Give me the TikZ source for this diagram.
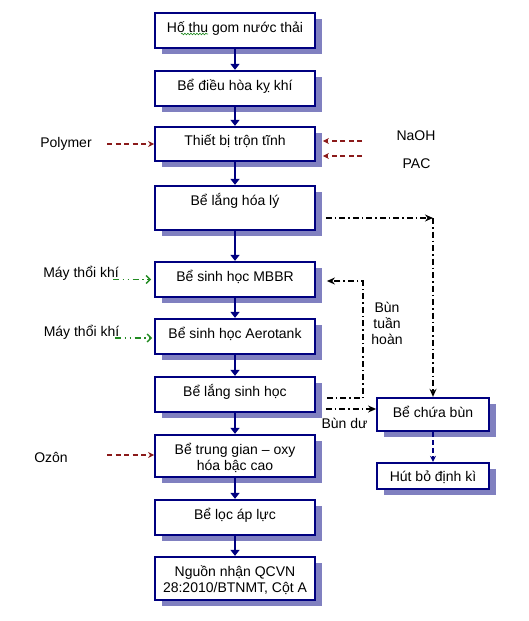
\documentclass[tikz,border=0pt]{standalone}
\usepackage{fontspec}
\setmainfont{Liberation Sans}
\usetikzlibrary{arrows.meta,shadows,calc,decorations.pathmorphing}
\definecolor{navy}{HTML}{000080}
\definecolor{shad}{HTML}{8080C0}
\definecolor{dred}{HTML}{8B1A1A}
\definecolor{dgreen}{HTML}{228B22}
\begin{document}
\begin{tikzpicture}[x=1pt,y=-1pt,font=\fontsize{14}{16}\selectfont,
  box/.style={draw=navy,line width=1.8pt,fill=white,minimum width=160pt,inner sep=0pt,
    text height=8pt,text depth=5pt,
    drop shadow={shadow xshift=7pt,shadow yshift=-6pt,fill=shad,opacity=1}},
  boxtwo/.style={box,align=center,text height=30pt,text depth=2pt},
  lbl/.style={inner sep=0pt,text height=10pt,text depth=0pt},
  flow/.style={draw=navy,line width=1.5pt,-{Triangle[length=6pt,width=9pt]}},
  chem/.style={draw=dred,line width=1.3pt,dash pattern=on 5pt off 3.5pt,-{Stealth[length=6pt,width=6pt]}},
  air/.style={draw=dgreen,line width=1.4pt,dash pattern=on 6pt off 3.5pt on 1.5pt off 3.5pt on 1.5pt off 3.5pt,-{Straight Barb[length=4pt,width=8pt]}},
  sludge/.style={draw=black,line width=1.3pt,dash pattern=on 6pt off 3pt on 1.5pt off 3pt,-{Stealth[length=8pt,width=7pt]}},
  drain/.style={draw=navy,line width=1.3pt,dash pattern=on 5pt off 3pt,-{Stealth[length=6pt,width=6pt]}}
]
\fill[white] (0,0) rectangle (528,621);
\useasboundingbox (0,0) rectangle (528,621);

% main column
\node[box,minimum height=35.5pt] (b1) at (235,30.5) {Hố thu gom nước thải};
\node[box,minimum height=35.5pt] (b2) at (235,88.5) {Bể điều hòa kỵ khí};
\node[box,minimum height=34.5pt] (b3) at (235,144) {Thiết bị trộn tĩnh};
\node[box,minimum height=44.5pt,text depth=14pt] (b4) at (235,208) {Bể lắng hóa lý};
\node[box,minimum height=35.5pt] (b5) at (235,279.5) {Bể sinh học MBBR};
\node[box,minimum height=35.5pt] (b6) at (235,336.5) {Bể sinh học Aerotank};
\node[box,minimum height=35.5pt] (b7) at (235,394.5) {Bể lắng sinh học};
\node[boxtwo,minimum height=42.5pt] (b8) at (235,456) {Bể trung gian – oxy\\hóa bậc cao};
\node[box,minimum height=35.5pt] (b9) at (235,517.5) {Bể lọc áp lực};
\node[boxtwo,minimum height=43.5pt] (b10) at (235,578.5) {Nguồn nhận QCVN\\28:2010/BTNMT, Cột A};

% sludge column
\node[box,minimum width=112pt,minimum height=33.5pt,text height=10pt,text depth=4pt] (c1) at (433,414.5) {Bể chứa bùn};
\node[box,minimum width=112pt,minimum height=26.5pt,text height=12pt,text depth=1pt] (c2) at (433,476) {Hút bỏ định kì};

% spell-check squiggle
\draw[dgreen,line width=0.6pt,decorate,decoration={snake,amplitude=0.8pt,segment length=3pt}] (181,34) -- (208,34);

% main flow
\draw[flow] (b1.south) -- (b2.north);
\draw[flow] (b2.south) -- (b3.north);
\draw[flow] (b3.south) -- (b4.north);
\draw[flow] (b4.south) -- (b5.north);
\draw[flow] (b5.south) -- (b6.north);
\draw[flow] (b6.south) -- (b7.north);
\draw[flow] (b7.south) -- (b8.north);
\draw[flow] (b8.south) -- (b9.north);
\draw[flow] (b9.south) -- (b10.north);

% chemicals
\node[lbl] (poly) at (66,142) {Polymer};
\node[lbl] (naoh) at (416,135) {NaOH};
\node[lbl] (pac) at (416.5,163) {PAC};
\node[lbl] (ozon) at (51,457) {Ozôn};
\coordinate (polyS) at (107,144);
\coordinate (naohS) at (362,141);
\coordinate (pacS) at (362,156);
\coordinate (ozonS) at (107,455);
\draw[chem] (polyS) -- (b3.west);
\draw[chem] (naohS) -- ($(b3.east)+(7,-3)$);
\draw[chem] (pacS) -- ($(b3.east)+(7,12)$);
\draw[chem] (ozonS) -- ($(b8.west)+(0,-1)$);

% air
\node[lbl] (air1) at (81,272) {Máy thổi khí};
\node[lbl] (air2) at (81.5,331) {Máy thổi khí};
\coordinate (air1S) at (113,279.5);
\coordinate (air2S) at (115,338);
\draw[air] (air1S) -- ($(b5.west)+(-3,0)$);
\draw[air] (air2S) -- ($(b6.west)+(-2,1.5)$);

% sludge lines
\coordinate (k) at (433,218);
\draw[sludge] ($(b4.east)+(10,10)$) -- (k);
\draw[sludge] (k) -- (c1.north);
\draw[sludge] ($(b7.east)+(11,3.5)$) -| ($(b5.east)+(47,1.5)$) -- ($(b5.east)+(11,1.5)$);
\draw[sludge] ($(b7.east)+(10,14.5)$) -- ($(c1.west)+(0,-5.5)$);
\draw[drain] (c1.south) -- (c2.north);

\node[inner sep=0pt,align=center,anchor=base] (tuan) at (387,344) {Bùn\\tuần\\hoàn};
\node[lbl] (du) at (344.5,423) {Bùn dư};
\end{tikzpicture}
\end{document}
